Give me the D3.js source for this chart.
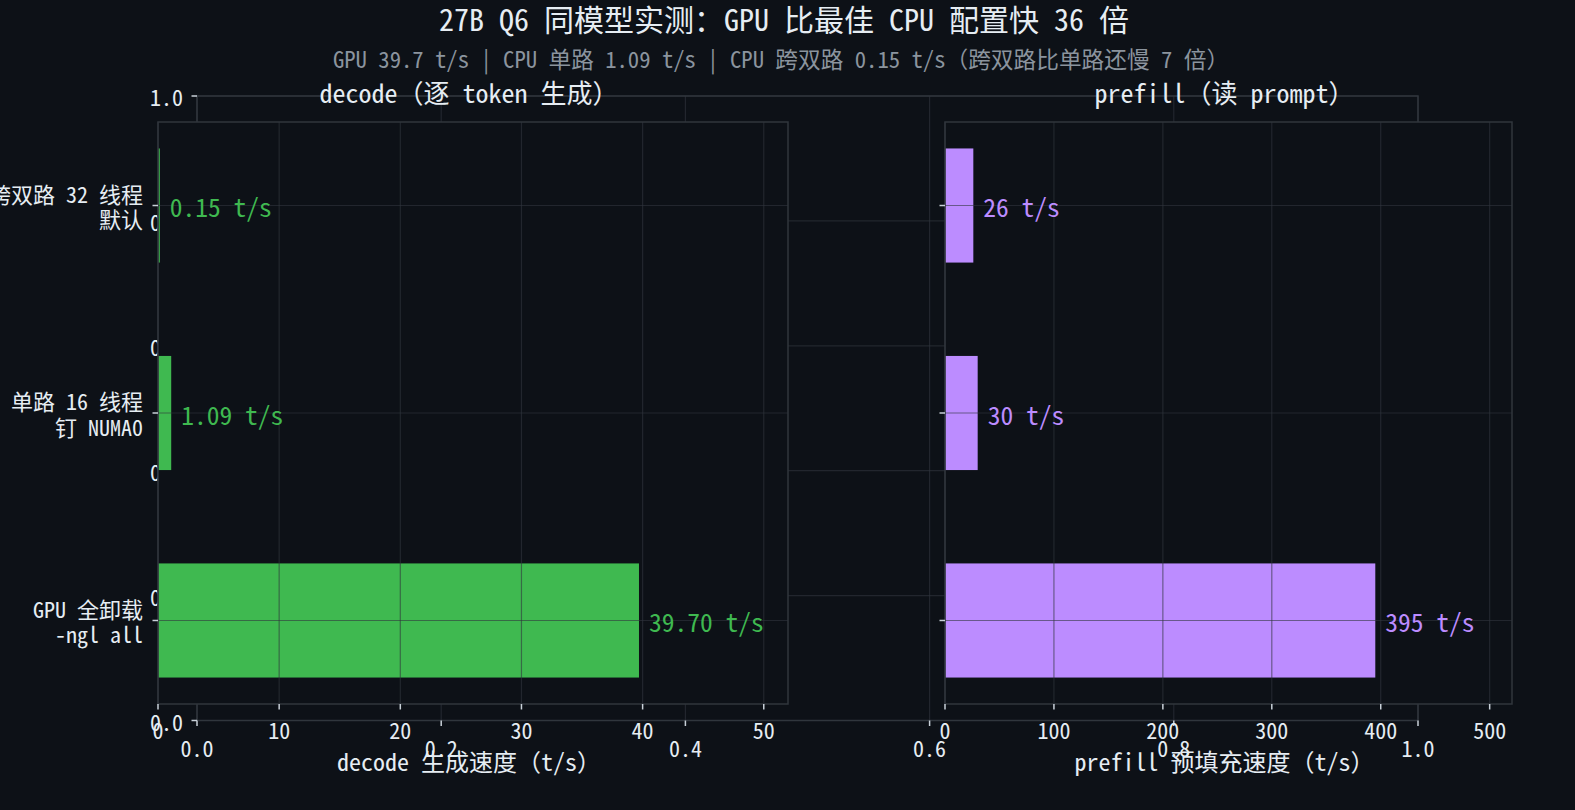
<!DOCTYPE html>
<html>
<head>
<meta charset="utf-8">
<script src="https://cdn.jsdelivr.net/npm/d3@7"></script>
<style>
  html, body { margin: 0; padding: 0; background: #0d1117; }
  svg { display: block; }
  text { font-family: "Noto Sans Mono CJK SC", "Noto Sans CJK SC", "DejaVu Sans Mono", monospace; fill: #e6edf3; }
</style>
</head>
<body>
<svg id="chart" width="1575" height="810"></svg>
<script>
// data
var categories = ["GPU 全卸载\n-ngl all", "单路 16 线程\n钉 NUMA0", "跨双路 32 线程\n默认"];
var decodeVals = [39.70, 1.09, 0.15];
var prefillVals = [395, 30, 26];
var decodeTicks = [0, 10, 20, 30, 40, 50];
var prefillTicks = [0, 100, 200, 300, 400, 500];
var bgTicks = [0, 0.2, 0.4, 0.6, 0.8, 1.0];

var BG = "#0d1117", SPINE = "#30363d", GRID = "#30363d", TICK = "#c9d1d9";
var GREEN = "#3fb950", PURPLE = "#bc8cff";

var svg = d3.select("#chart");
svg.append("rect").attr("width", 1575).attr("height", 810).attr("fill", BG);

// titles
svg.append("text").attr("x", 784).attr("y", 18)
  .attr("text-anchor", "middle").attr("dominant-baseline", "central")
  .style("font-size", "30px")
  .text("27B Q6 同模型实测：GPU 比最佳 CPU 配置快 36 倍");
svg.append("text").attr("x", 781).attr("y", 58)
  .attr("text-anchor", "middle").attr("dominant-baseline", "central")
  .style("font-size", "22.7px").style("fill", "#8b949e")
  .text("GPU 39.7 t/s | CPU 单路 1.09 t/s | CPU 跨双路 0.15 t/s（跨双路比单路还慢 7 倍）");

// stray 0..1 axis behind the subplots
var bx = d3.scaleLinear().domain([0, 1]).range([197, 1418]);
var by = d3.scaleLinear().domain([0, 1]).range([720.5, 96]);
var bg = svg.append("g");
bg.selectAll("line.vg").data(bgTicks).enter().append("line")
  .attr("x1", function(d) { return bx(d); }).attr("x2", function(d) { return bx(d); })
  .attr("y1", by(0)).attr("y2", by(1))
  .attr("stroke", GRID).attr("stroke-opacity", 0.6).attr("stroke-width", 1.2);
bg.selectAll("line.hg").data(bgTicks).enter().append("line")
  .attr("y1", function(d) { return by(d); }).attr("y2", function(d) { return by(d); })
  .attr("x1", bx(0)).attr("x2", bx(1))
  .attr("stroke", GRID).attr("stroke-opacity", 0.6).attr("stroke-width", 1.2);
bg.append("rect").attr("x", bx(0)).attr("y", by(1))
  .attr("width", bx(1) - bx(0)).attr("height", by(0) - by(1))
  .attr("fill", "none").attr("stroke", SPINE).attr("stroke-width", 1.5);
bg.selectAll("line.xt").data(bgTicks).enter().append("line")
  .attr("x1", function(d) { return bx(d); }).attr("x2", function(d) { return bx(d); })
  .attr("y1", by(0)).attr("y2", by(0) + 5.5)
  .attr("stroke", TICK).attr("stroke-width", 1.5);
bg.selectAll("text.xt").data(bgTicks).enter().append("text")
  .attr("x", function(d) { return bx(d); }).attr("y", 747)
  .attr("text-anchor", "middle").attr("dominant-baseline", "central")
  .style("font-size", "22px")
  .text(function(d) { return d3.format(".1f")(d); });
bg.selectAll("line.yt").data(bgTicks).enter().append("line")
  .attr("y1", function(d) { return by(d); }).attr("y2", function(d) { return by(d); })
  .attr("x1", bx(0) - 5.5).attr("x2", bx(0))
  .attr("stroke", TICK).attr("stroke-width", 1.5);
bg.selectAll("text.yt").data(bgTicks).enter().append("text")
  .attr("x", 183).attr("y", function(d) { return by(d); })
  .attr("text-anchor", "end").attr("dominant-baseline", "central")
  .style("font-size", "22px")
  .text(function(d) { return d3.format(".1f")(d); });

var y = d3.scaleLinear().domain([-0.4025, 2.4025]).range([704, 122]);
var barH = 0.55;

function panel(opts) {
  var x = d3.scaleLinear().domain([0, opts.xmax]).range([opts.left, opts.right]);
  var g = svg.append("g");
  // face covers the stray axis
  g.append("rect").attr("x", opts.left).attr("y", y.range()[1])
    .attr("width", opts.right - opts.left).attr("height", y.range()[0] - y.range()[1])
    .attr("fill", BG);

  g.selectAll("rect.bar").data(opts.vals).enter().append("rect")
    .attr("x", x(0))
    .attr("y", function(d, i) { return y(i + barH / 2); })
    .attr("width", function(d) { return x(d) - x(0); })
    .attr("height", y(0) - y(barH))
    .attr("fill", opts.color);

  // grid drawn over the bars
  g.selectAll("line.vg").data(opts.ticks).enter().append("line")
    .attr("x1", function(d) { return x(d); }).attr("x2", function(d) { return x(d); })
    .attr("y1", y.range()[0]).attr("y2", y.range()[1])
    .attr("stroke", GRID).attr("stroke-opacity", 0.6).attr("stroke-width", 1.2);
  g.selectAll("line.hg").data(opts.vals).enter().append("line")
    .attr("y1", function(d, i) { return y(i); }).attr("y2", function(d, i) { return y(i); })
    .attr("x1", opts.left).attr("x2", opts.right)
    .attr("stroke", GRID).attr("stroke-opacity", 0.6).attr("stroke-width", 1.2);

  g.append("rect").attr("x", opts.left).attr("y", y.range()[1])
    .attr("width", opts.right - opts.left).attr("height", y.range()[0] - y.range()[1])
    .attr("fill", "none").attr("stroke", SPINE).attr("stroke-width", 1.5);

  // x ticks
  g.selectAll("line.xt").data(opts.ticks).enter().append("line")
    .attr("x1", function(d) { return x(d); }).attr("x2", function(d) { return x(d); })
    .attr("y1", y.range()[0]).attr("y2", y.range()[0] + 5.5)
    .attr("stroke", TICK).attr("stroke-width", 1.5);
  g.selectAll("text.xt").data(opts.ticks).enter().append("text")
    .attr("x", function(d) { return x(d); }).attr("y", 729)
    .attr("text-anchor", "middle").attr("dominant-baseline", "central")
    .style("font-size", "22px")
    .text(function(d) { return d; });

  // y ticks
  g.selectAll("line.yt").data(opts.vals).enter().append("line")
    .attr("y1", function(d, i) { return y(i); }).attr("y2", function(d, i) { return y(i); })
    .attr("x1", opts.left - 5.5).attr("x2", opts.left)
    .attr("stroke", TICK).attr("stroke-width", 1.5);
  if (opts.labels) {
    categories.forEach(function(c, i) {
      var lines = c.split("\n");
      var t = g.append("text").attr("text-anchor", "end").style("font-size", "22px");
      lines.forEach(function(l, k) {
        t.append("tspan").attr("x", opts.left - 15)
          .attr("y", y(i) + (k - (lines.length - 1) / 2) * 25.5)
          .attr("dominant-baseline", "central")
          .text(l);
      });
    });
  }

  // value labels
  g.selectAll("text.val").data(opts.vals).enter().append("text")
    .attr("x", function(d) { return x(d) + 10; })
    .attr("y", function(d, i) { return y(i); })
    .attr("dominant-baseline", "central")
    .style("font-size", "25.5px").style("fill", opts.color)
    .text(function(d) { return opts.fmt(d) + " t/s"; });

  var cx = (opts.left + opts.right) / 2;
  g.append("text").attr("x", cx - 4).attr("y", 91)
    .attr("text-anchor", "middle").attr("dominant-baseline", "central")
    .style("font-size", "26px").text(opts.title);
  g.append("text").attr("x", cx - 4).attr("y", 760)
    .attr("text-anchor", "middle").attr("dominant-baseline", "central")
    .style("font-size", "24px").text(opts.xlabel);
}

panel({
  left: 158, right: 788, xmax: 52, vals: decodeVals, ticks: decodeTicks,
  color: GREEN, fmt: d3.format(".2f"), labels: true,
  title: "decode（逐 token 生成）", xlabel: "decode 生成速度（t/s）"
});
panel({
  left: 945, right: 1512, xmax: 520.5, vals: prefillVals, ticks: prefillTicks,
  color: PURPLE, fmt: d3.format(".0f"), labels: false,
  title: "prefill（读 prompt）", xlabel: "prefill 预填充速度（t/s）"
});
</script>
</body>
</html>
